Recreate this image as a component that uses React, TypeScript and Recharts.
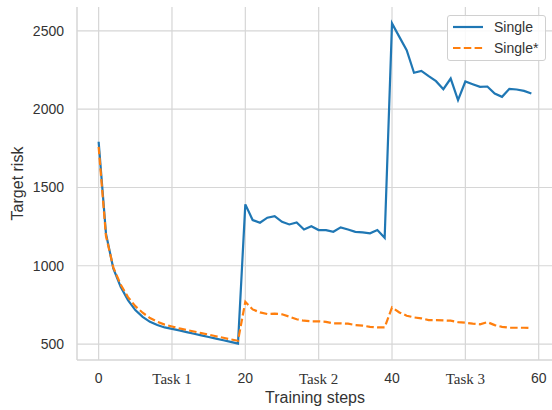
import {
  LineChart,
  Line,
  XAxis,
  YAxis,
  CartesianGrid,
  Legend,
} from 'recharts'

const steps = Array.from({ length: 60 }, (_, i) => i)

const single = [
  1792, 1205, 983, 866, 781, 717, 674, 642, 621, 606,
  597, 587, 576, 566, 555, 545, 535, 524, 514, 503,
  1392, 1292, 1275, 1307, 1317, 1281, 1264, 1277, 1232, 1253,
  1228, 1228, 1217, 1245, 1232, 1217, 1213, 1207, 1228, 1179,
  2548, 2462, 2377, 2233, 2245, 2211, 2179, 2128, 2196, 2058,
  2177, 2160, 2143, 2145, 2100, 2079, 2130, 2126, 2117, 2100,
]

const singleStar = [
  1760, 1190, 990, 880, 800, 742, 700, 666, 642, 624,
  612, 600, 590, 580, 570, 560, 550, 540, 530, 521,
  770, 721, 702, 692, 694, 690, 675, 658, 649, 645,
  645, 642, 632, 632, 630, 621, 617, 610, 606, 606,
  734, 702, 681, 670, 664, 653, 653, 651, 649, 640,
  636, 630, 626, 640, 621, 610, 604, 604, 604, 602,
]

const xTicks = [0, 10, 20, 30, 40, 50, 60]
const xTickLabels = ['0', 'Task 1', '20', 'Task 2', '40', 'Task 3', '60']
const yTicks = [500, 1000, 1500, 2000, 2500]

const data = steps.map((s, i) => ({ step: s, single: single[i], singleStar: singleStar[i] }))

const BLUE = '#1f77b4'
const ORANGE = '#ff7f0e'
const GRID = '#d6d6d6'
const TEXT = '#333333'

function XTick({ x, y, payload }: any) {
  const idx = xTicks.indexOf(payload.value)
  const label = xTickLabels[idx] ?? String(payload.value)
  const isTask = label.startsWith('Task')
  return (
    <text
      x={x}
      y={y}
      dy="0.71em"
      textAnchor="middle"
      fill={TEXT}
      fontSize={isTask ? 15 : 14}
      fontFamily={isTask ? '"Liberation Serif", "Times New Roman", serif' : '"Liberation Sans", Arial, sans-serif'}
    >
      {label}
    </text>
  )
}

function LegendBox() {
  const items = [
    { name: 'Single', color: BLUE, dash: undefined },
    { name: 'Single*', color: ORANGE, dash: '7.5 3.3' },
  ]
  return (
    <div
      style={{
        width: 99,
        height: 46,
        boxSizing: 'border-box',
        border: '1px solid #d0d0d0',
        borderRadius: 3,
        background: 'rgba(255,255,255,0.85)',
        fontFamily: '"Liberation Sans", Arial, sans-serif',
        fontSize: 14,
        color: TEXT,
      }}
    >
      <svg width={97} height={44}>
        {items.map((it, i) => (
          <g key={it.name}>
            <line
              x1={5}
              x2={35}
              y1={11 + i * 21}
              y2={11 + i * 21}
              stroke={it.color}
              strokeWidth={2.2}
              strokeDasharray={it.dash}
            />
            <text x={46} y={11 + i * 21} dy="0.35em" fill={TEXT} fontSize={14}>
              {it.name}
            </text>
          </g>
        ))}
      </svg>
    </div>
  )
}

export default function App() {
  return (
    <div style={{ position: 'absolute', left: 0, top: 0, width: 552, height: 410, background: '#fff' }}>
      <LineChart
        width={552}
        height={410}
        data={data}
        margin={{ top: 7, right: -1, bottom: 0, left: 0 }}
        style={{ fontFamily: '"Liberation Sans", Arial, sans-serif' }}
      >
        <CartesianGrid stroke={GRID} strokeWidth={1.2} horizontalValues={yTicks} verticalValues={xTicks} />
        <XAxis
          dataKey="step"
          type="number"
          domain={[-2.95, 61.95]}
          ticks={xTicks}
          allowDataOverflow
          height={50}
          tickSize={0}
          tickMargin={13}
          tickLine={false}
          axisLine={{ stroke: GRID, strokeWidth: 1.5 }}
          tick={<XTick />}
          label={{
            value: 'Training steps',
            position: 'insideBottom',
            offset: 7,
            fill: TEXT,
            fontSize: 16,
          }}
        />
        <XAxis
          xAxisId="top"
          orientation="top"
          dataKey="step"
          type="number"
          domain={[-2.95, 61.95]}
          height={0}
          tick={false}
          tickLine={false}
          axisLine={{ stroke: GRID, strokeWidth: 1.5 }}
        />
        <YAxis
          type="number"
          domain={[398, 2653]}
          ticks={yTicks}
          allowDataOverflow
          width={77}
          tickSize={0}
          tickMargin={13}
          tickLine={false}
          axisLine={{ stroke: GRID, strokeWidth: 1.5 }}
          tick={{ fill: TEXT, fontSize: 14 }}
          label={{
            value: 'Target risk',
            angle: -90,
            position: 'insideLeft',
            offset: 17,
            style: { textAnchor: 'middle' },
            fill: TEXT,
            fontSize: 16,
          }}
        />
        <Legend
          layout="vertical"
          align="center"
          verticalAlign="middle"
          wrapperStyle={{ position: 'absolute', left: 447, top: 15, width: 99 }}
          content={<LegendBox />}
        />
        <Line
          dataKey="single"
          stroke={BLUE}
          strokeWidth={2.2}
          dot={false}
          isAnimationActive={false}
        />
        <Line
          dataKey="singleStar"
          stroke={ORANGE}
          strokeWidth={2.2}
          strokeDasharray="7.5 3.3"
          dot={false}
          isAnimationActive={false}
        />
      </LineChart>
    </div>
  )
}
